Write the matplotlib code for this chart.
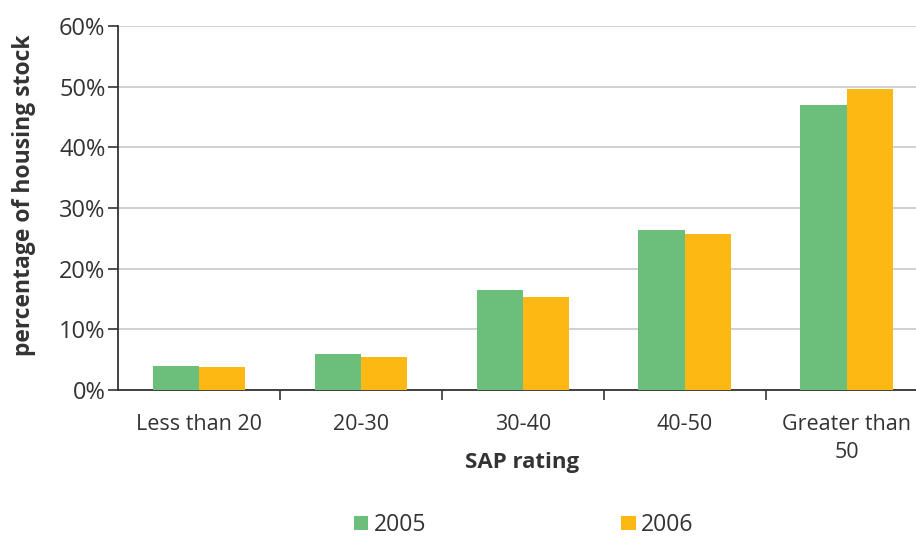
import numpy as np
import matplotlib
matplotlib.use("Agg")
from matplotlib import pyplot as plt
from matplotlib.ticker import FixedLocator

plt.rcParams['font.family'] = ['Open Sans', 'DejaVu Sans']

# data
categories = ["Less than 20", "20-30", "30-40", "40-50", "Greater than\n50"]
years = ["2005", "2006"]
vals_2005 = [4.0, 5.9, 16.5, 26.4, 47.0]
vals_2006 = [3.8, 5.4, 15.3, 25.7, 49.6]
yticks = [0, 10, 20, 30, 40, 50, 60]

green = "#6BBF7B"
orange = "#FDB813"
dark = "#333333"

fig = plt.figure(figsize=(9.16, 5.37), dpi=100)
ax = fig.add_axes([118/916, 1 - 390/537, 798/916, 364/537])

x = np.arange(len(categories))
w = 0.287
ax.bar(x - w/2, vals_2005, width=w, color=green, label=years[0], zorder=3)
ax.bar(x + w/2, vals_2006, width=w, color=orange, label=years[1], zorder=3)

ax.set_ylim(0, 60)
ax.set_xlim(-0.5, 4.426)
ax.set_yticks(yticks)
ax.set_yticklabels([f"{t}%" for t in yticks], fontsize=17, color=dark)
ax.yaxis.grid(True, color="#c8c8c8", linewidth=1.2, zorder=0)
ax.set_axisbelow(True)

# labels at centres, tick marks at category boundaries
ax.set_xticks(x)
ax.set_xticklabels(categories, fontsize=15.5, color=dark, linespacing=1.45)
ax.tick_params(axis="x", which="major", length=0, pad=17)
ax.xaxis.set_minor_locator(FixedLocator([0.5, 1.5, 2.5, 3.5]))
ax.tick_params(axis="x", which="minor", length=7, width=1.2, color=dark, direction="out")
ax.tick_params(axis="y", length=7, width=1.2, color=dark, pad=2)

for s in ["top", "right"]:
    ax.spines[s].set_visible(False)
ax.spines["left"].set_color(dark)
ax.spines["left"].set_linewidth(1.3)
ax.spines["bottom"].set_color(dark)
ax.spines["bottom"].set_linewidth(1.3)

ax.set_ylabel("percentage of housing stock", fontsize=16.5, fontweight="bold", color=dark)
ax.yaxis.set_label_coords(-0.103, 0.536)
ax.set_xlabel("SAP rating", fontsize=16, fontweight="bold", color=dark)
ax.xaxis.set_label_coords(0.506, -0.17)

fig.legend(loc="center", bbox_to_anchor=(524/916, 1 - 525/537), ncol=2, frameon=False,
           fontsize=16.5, handlelength=0.62, handleheight=0.62, handletextpad=0.25,
           columnspacing=8.5, labelcolor=dark, borderpad=0.1)

fig.savefig("out.png", dpi=100)
